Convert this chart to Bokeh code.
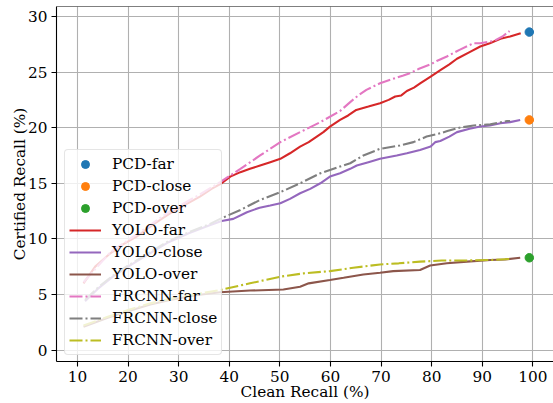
from bokeh.plotting import figure
from bokeh.models import Span, FixedTicker
from bokeh.embed import file_html
from bokeh.resources import INLINE

# ---------------- data ----------------
pcd_x = 99.3
pcd_far = 28.6
pcd_close = 20.7
pcd_over = 8.3

yolo_far_x = [11.2, 13.5, 16.5, 19, 21.7, 25, 28.3, 31, 34.2, 36.5, 38.5, 40.2, 42.2, 44.1, 46.1, 48.1,
              50.1, 52, 54.0, 55.7, 57.3, 58.6, 59.9, 61.9, 63.5, 65.1, 67.5, 69.8, 71.5, 72.8, 74,
              75.1, 76.5, 77.8, 79.8, 81.8, 83.5, 85.0, 87.5, 89.6, 91.5, 93.6, 95.5, 97.6]
yolo_far_y = [6.0, 7.5, 8.7, 9.5, 10.2, 11.3, 12.3, 13.0, 13.8, 14.5, 15.0, 15.6, 16.0, 16.3, 16.6, 16.9,
              17.2, 17.7, 18.3, 18.7, 19.2, 19.6, 20.1, 20.7, 21.1, 21.6, 21.9, 22.2, 22.5, 22.8, 22.9,
              23.3, 23.6, 24.0, 24.6, 25.2, 25.7, 26.2, 26.8, 27.3, 27.6, 28.0, 28.2, 28.5]

frcnn_far_x = [11.2, 16.5, 21.7, 28.3, 34.2, 38.2, 42.2, 46.1, 50.1, 54.0, 58.0, 61.9, 63.9, 65.5, 67.1,
               69.8, 71.1, 74.4, 75.7, 77.5, 79.8, 81.0, 83.0, 85.5, 88.3, 89.6, 92.3, 94, 95.4]
frcnn_far_y = [6.1, 8.8, 10.4, 12.5, 14.0, 15.1, 16.3, 17.5, 18.7, 19.6, 20.5, 21.5, 22.3, 22.9, 23.4,
               24.0, 24.2, 24.7, 24.9, 25.3, 25.7, 26.0, 26.4, 27.0, 27.6, 27.6, 27.8, 28.2, 28.7]

yolo_close_x = [11.5, 14, 17, 20, 24, 28, 32, 36, 38.5, 40.8, 43.5, 46, 48.1, 50.1, 52, 54.0, 56, 58.0,
                59.9, 61.9, 63.9, 65.2, 67.5, 69.8, 73.1, 75.1, 77.7, 79.8, 80.7, 81.7, 83.5, 85.0,
                87.5, 89.6, 91.5, 93.6, 95.5, 97.5]
yolo_close_y = [4.4, 5.5, 6.6, 7.5, 8.6, 9.7, 10.5, 11.2, 11.6, 11.8, 12.4, 12.8, 13.0, 13.2, 13.6, 14.1,
                14.5, 15.0, 15.6, 15.9, 16.3, 16.6, 16.9, 17.2, 17.5, 17.7, 18.0, 18.3, 18.7, 18.8,
                19.2, 19.6, 19.9, 20.1, 20.2, 20.4, 20.5, 20.7]

frcnn_close_x = [11.5, 14, 17, 20, 24, 28, 32, 36, 38.2, 42.2, 46.1, 50.1, 54.0, 58.0, 61.9, 63.9, 66.5,
                 69.8, 73.7, 76.4, 79.0, 81.7, 83.1, 85.5, 88.3, 91.6, 94.9, 95.5]
frcnn_close_y = [4.5, 5.6, 6.7, 7.6, 8.7, 9.8, 10.6, 11.3, 11.8, 12.6, 13.5, 14.2, 15.0, 15.9, 16.5, 16.8,
                 17.5, 18.1, 18.4, 18.7, 19.2, 19.5, 19.7, 20.0, 20.2, 20.3, 20.6, 20.6]

yolo_over_x = [11.2, 16, 20, 24.4, 28.3, 33, 38.2, 44.1, 50.7, 54.0, 55.7, 59.9, 62.6, 66.5, 69.8, 72.4,
               77.7, 79.7, 83.0, 87, 91.6, 94.5, 97.5]
yolo_over_y = [2.1, 2.9, 3.5, 4.1, 4.5, 4.9, 5.2, 5.35, 5.45, 5.7, 6.0, 6.3, 6.5, 6.8, 6.95, 7.1,
               7.2, 7.6, 7.8, 7.95, 8.1, 8.15, 8.3]

frcnn_over_x = [11.2, 16, 20, 24.4, 28.3, 33, 38.2, 44.1, 50.1, 54.7, 59.9, 64.5, 69.8, 73.5, 77.7, 82,
                86.4, 91.6, 95.9]
frcnn_over_y = [2.2, 3.0, 3.6, 4.2, 4.6, 5.0, 5.4, 6.0, 6.6, 6.9, 7.1, 7.4, 7.7, 7.8, 7.95, 8.05,
                8.05, 8.1, 8.2]

x_ticks = [10, 20, 30, 40, 50, 60, 70, 80, 90, 100]
y_ticks = [0, 5, 10, 15, 20, 25, 30]
x_label = "Clean Recall (%)"
y_label = "Certified Recall (%)"

FONT = "DejaVu Serif"
FS = "15.3px"
DASHDOT = "13 3 2 3"

p = figure(width=553, height=403, output_backend="svg", toolbar_location=None,
           x_range=(5.86, 104.08), y_range=(-1.03, 30.9),
           min_border_left=56, min_border_right=0, min_border_top=6, min_border_bottom=41,
           x_axis_label=x_label, y_axis_label=y_label)
p.outline_line_color = None
p.background_fill_color = "white"
p.border_fill_color = "white"

for ax in (p.xaxis[0], p.yaxis[0]):
    ax.axis_label_text_font = FONT
    ax.axis_label_text_font_size = FS
    ax.axis_label_text_font_style = "normal"
    ax.axis_label_text_color = "black"
    ax.major_label_text_font = FONT
    ax.major_label_text_font_size = FS
    ax.major_label_text_color = "black"
    ax.axis_line_color = "black"
    ax.axis_line_width = 1.1
    ax.major_tick_line_color = "black"
    ax.major_tick_line_width = 1.1
    ax.major_tick_out = 5
    ax.major_tick_in = 0
    ax.minor_tick_line_color = None

p.xaxis[0].ticker = FixedTicker(ticks=x_ticks)
p.yaxis[0].ticker = FixedTicker(ticks=y_ticks)
p.xaxis[0].major_label_standoff = 4
p.xaxis[0].axis_label_standoff = -2
p.yaxis[0].major_label_standoff = 4
p.yaxis[0].axis_label_standoff = -4

for g in (p.xgrid[0], p.ygrid[0]):
    g.grid_line_color = "#b0b0b0"
    g.grid_line_width = 1.1
p.xgrid[0].ticker = FixedTicker(ticks=x_ticks)
p.ygrid[0].ticker = FixedTicker(ticks=y_ticks)

p.add_layout(Span(location=30.9, dimension="width", line_color="black", line_width=1.1))

p.scatter([pcd_x], [pcd_far], size=8.5, color="#1f77b4", legend_label="PCD-far")
p.scatter([pcd_x], [pcd_close], size=8.5, color="#ff7f0e", legend_label="PCD-close")
p.scatter([pcd_x], [pcd_over], size=8.5, color="#2ca02c", legend_label="PCD-over")
p.line(yolo_far_x, yolo_far_y, line_color="#d62728", line_width=2.1, legend_label="YOLO-far")
p.line(yolo_close_x, yolo_close_y, line_color="#9467bd", line_width=2.1, legend_label="YOLO-close")
p.line(yolo_over_x, yolo_over_y, line_color="#8c564b", line_width=2.1, legend_label="YOLO-over")
p.line(frcnn_far_x, frcnn_far_y, line_color="#e377c2", line_width=2.1, line_dash=DASHDOT, legend_label="FRCNN-far")
p.line(frcnn_close_x, frcnn_close_y, line_color="#7f7f7f", line_width=2.1, line_dash=DASHDOT, legend_label="FRCNN-close")
p.line(frcnn_over_x, frcnn_over_y, line_color="#bcbd22", line_width=2.1, line_dash=DASHDOT, legend_label="FRCNN-over")

lg = p.legend[0]
lg.location = (8, 6)
lg.label_text_font = FONT
lg.label_text_font_size = FS
lg.label_text_color = "black"
lg.glyph_width = 32
lg.glyph_height = 20
lg.label_height = 20
lg.label_standoff = 11
lg.spacing = 2
lg.padding = 4
lg.margin = 0
lg.background_fill_alpha = 0.8
lg.border_line_color = "#cccccc"
lg.border_line_width = 1
lg.border_radius = 4

open("out.html", "w").write(file_html(p, INLINE))
